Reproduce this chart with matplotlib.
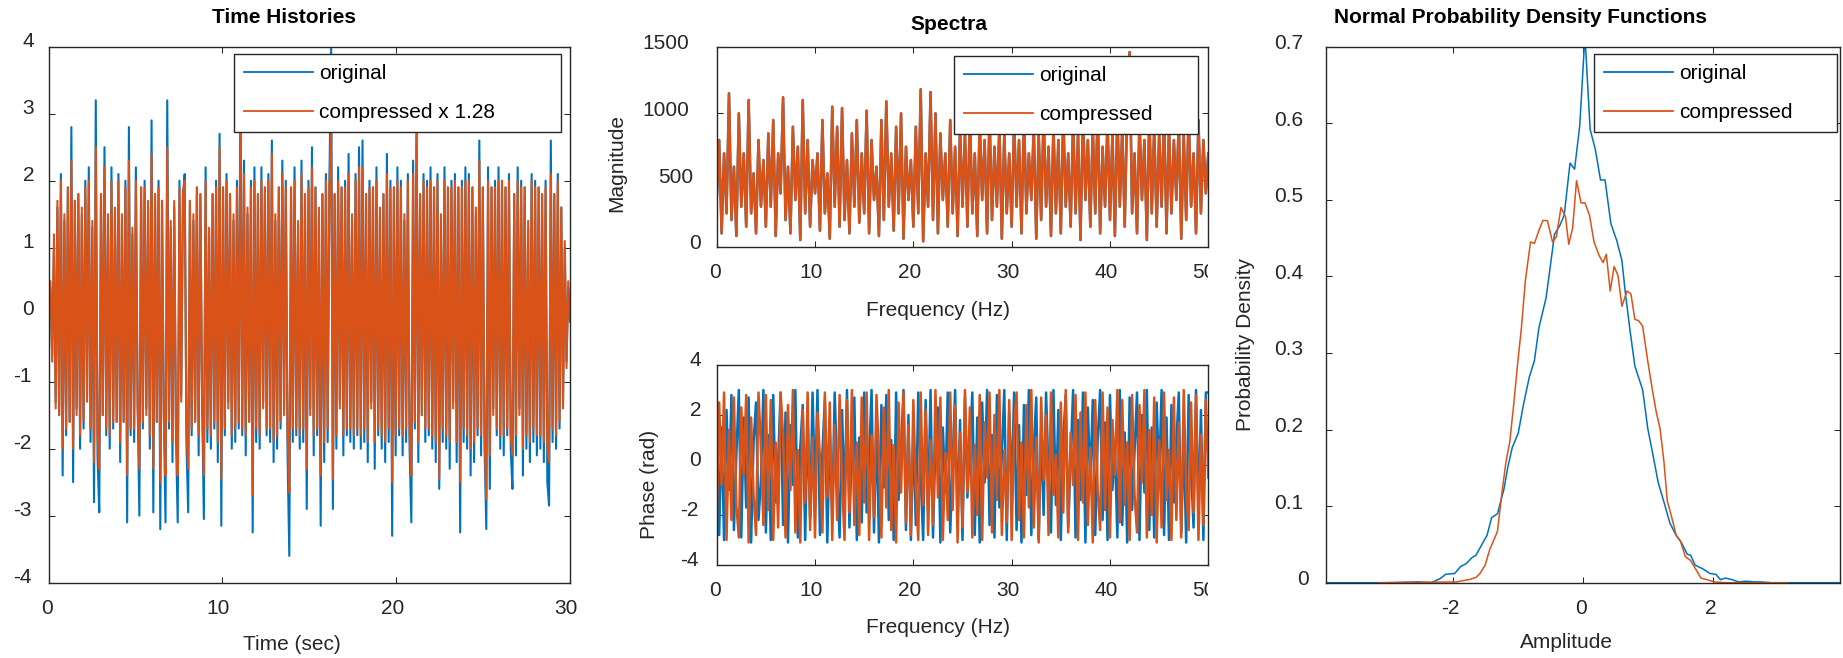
import numpy as np
import matplotlib
matplotlib.use('Agg')
import matplotlib.pyplot as plt
from matplotlib.transforms import ScaledTranslation, Bbox, TransformedBbox

plt.rcParams['font.family'] = ['Liberation Sans', 'DejaVu Sans']
plt.rcParams['axes.unicode_minus'] = False

# ---------------- data ----------------
time_span = [0, 30]
th_original = [
    0.0, 0.4, -0.6, 1.0, -1.3, 1.6, -1.5, 2.1, -2.4, 1.4, -1.8, 1.9, -1.6, 2.8, -2.5, 1.7, -1.4, 1.8, -2.0, 1.5,
    -1.7, 2.0, -1.2, 2.2, -1.9, 1.3, -2.8, 3.2, -2.1, -2.95, 1.8, -1.5, 2.5, -1.8, 1.4, -2.0, 2.2, -1.7, 1.5, -1.6,
    2.1, -2.2, 1.4, -1.6, 2.0, -3.1, 2.8, -1.8, 1.2, -1.9, 2.2, -1.3, -3.0, 1.9, -1.7, 2.0, -1.4, 1.6, -2.0, 2.9,
    -2.95, 1.8, -1.6, 2.0, -3.2, 1.7, -1.4, -3.1, 3.2, -1.7, 1.3, -2.2, 1.6, -1.8, -3.1, 2.0, -1.2, 1.8, 2.1, -1.9,
    -2.95, 1.7, -1.8, 1.4, -1.6, 1.9, -2.1, 1.8, -1.3, -3.05, 2.2, -1.9, 1.2, -2.0, 1.8, -1.7, 2.0, -2.2, 2.7, -3.15,
    1.9, -1.8, 2.1, -1.3, 1.8, -2.0, 1.4, -1.9, 2.0, -1.7, 3.6, -1.8, 2.3, -2.1, 1.5, -1.6, 2.0, -3.25, 2.2, -1.9,
    1.8, -2.0, 2.2, -1.3, 1.9, -1.8, 2.1, -1.9, 2.6, -2.2, 1.4, -2.0, 1.9, -1.7, 2.3, -1.4, 2.0, -2.1, -3.6, 1.9,
    -1.9, 2.2, -1.8, 1.3, -2.0, 2.3, -1.9, 1.8, -2.9, 2.0, -1.4, 2.5, -2.1, 1.9, -1.8, 1.5, -3.15, 1.8, -2.2, 2.1,
    -1.9, 2.0, 3.97, -2.9, 1.8, -2.0, 2.2, -1.3, 1.9, -2.1, 2.0, -1.8, 2.4, -1.9, 1.4, -2.0, 2.1, -1.8, 2.5, -2.0,
    2.6, -1.9, 1.8, -2.2, 2.0, -1.3, 1.9, -2.3, 2.2, -1.8, 1.5, -2.0, 1.8, -2.2, 2.4, -1.9, 2.0, -3.3, 1.9, -2.1,
    2.2, -1.8, 2.0, -2.1, 1.4, -1.9, 2.1, -2.0, -3.1, 2.3, -1.7, 2.9, -2.2, 1.8, -1.5, 2.1, -1.9, 2.0, -1.8, 2.2,
    -2.0, 1.9, -2.2, 2.1, -2.6, 1.4, -1.9, 2.2, -2.0, 1.9, -2.3, 2.0, -1.3, 2.1, -2.2, 1.9, -3.25, 2.0, -1.9, 2.2,
    -2.0, 2.1, -2.4, 1.9, -2.2, 1.5, -1.8, 2.6, -2.1, 1.9, -2.0, -3.2, 2.2, -2.6, 1.9, -1.4, 2.0, -1.8, 2.2, -2.0,
    2.0, -2.1, 1.9, -1.8, 2.1, -2.0, -2.6, 1.8, -2.1, 2.2, -1.4, 2.0, -2.4, 1.9, -2.0, 1.3, -2.2, 2.1, -1.9, 2.0,
    -2.1, 1.9, -2.0, 1.8, -2.2, 2.0, -2.5, -2.85, 2.6, -1.9, 1.8, -2.0, 2.1, -1.7, 1.6, -1.3, 1.0, -0.7, 0.4, -0.1,
]
th_compressed = [
    0.0, 0.5, -0.7, 1.2, -1.4, 1.7, -1.5, 2.0, -2.0, 1.5, -1.7, 1.9, -1.6, 2.3, -2.0, 1.7, -1.5, 1.8, -1.8, 1.6,
    -1.6, 1.9, -1.3, 2.0, -1.7, 1.4, -2.2, 2.5, -1.8, -2.3, 1.8, -1.5, 2.2, -1.7, 1.5, -1.8, 2.0, -1.6, 1.6, -1.6,
    2.0, -1.9, 1.5, -1.6, 1.9, -2.4, 2.3, -1.7, 1.3, -1.7, 2.0, -1.4, -2.3, 1.9, -1.6, 1.9, -1.5, 1.7, -1.8, 2.4,
    -2.3, 1.8, -1.6, 1.9, -2.5, 1.7, -1.5, -2.4, 2.5, -1.6, 1.4, -1.9, 1.7, -1.7, -2.4, 1.9, -1.3, 1.8, 2.0, -1.7,
    -2.3, 1.7, -1.7, 1.5, -1.6, 1.9, -1.8, 1.8, -1.4, -2.4, 2.0, -1.7, 1.3, -1.8, 1.8, -1.6, 1.9, -1.9, 2.5, -2.45,
    1.9, -1.7, 2.0, -1.4, 1.8, -1.8, 1.5, -1.7, 1.9, -1.6, 2.7, -1.7, 2.1, -1.8, 1.6, -1.6, 1.9, -2.7, 2.0, -1.7,
    1.8, -1.8, 2.0, -1.4, 1.9, -1.7, 2.0, -1.7, 2.4, -1.9, 1.5, -1.8, 1.9, -1.6, 2.1, -1.5, 1.9, -1.8, -2.65, 1.9,
    -1.7, 2.0, -1.7, 1.4, -1.8, 2.1, -1.7, 1.8, -2.3, 1.9, -1.5, 2.2, -1.8, 1.9, -1.7, 1.6, -2.4, 1.8, -1.9, 2.0,
    -1.7, 1.9, 2.75, -2.45, 1.8, -1.8, 2.0, -1.4, 1.9, -1.8, 1.9, -1.7, 2.1, -1.7, 1.5, -1.8, 2.0, -1.7, 2.2, -1.8,
    2.2, -1.7, 1.8, -1.9, 1.9, -1.4, 1.9, -1.9, 2.0, -1.7, 1.6, -1.8, 1.8, -1.9, 2.1, -1.7, 1.9, -2.5, 1.9, -1.8,
    2.0, -1.7, 1.9, -1.8, 1.5, -1.7, 2.0, -1.8, -2.4, 2.1, -1.6, 2.7, -1.9, 1.8, -1.5, 2.0, -1.7, 1.9, -1.7, 2.0,
    -1.8, 1.9, -1.9, 2.0, -2.45, 1.5, -1.7, 2.0, -1.8, 1.9, -1.9, 1.9, -1.4, 2.0, -1.9, 1.9, -2.5, 1.9, -1.7, 2.0,
    -1.8, 2.0, -2.0, 1.9, -1.9, 1.6, -1.7, 2.3, -1.8, 1.9, -1.8, -2.75, 2.0, -2.1, 1.9, -1.5, 1.9, -1.7, 2.0, -1.8,
    2.0, -1.8, 1.9, -1.7, 2.0, -1.8, -2.1, 1.8, -1.8, 2.0, -1.5, 1.9, -2.0, 1.9, -1.8, 1.4, -1.9, 2.0, -1.7, 1.9,
    -1.8, 1.9, -1.8, 1.8, -1.9, 1.9, -2.0, -2.2, 2.1, -1.7, 1.8, -1.8, 2.0, -1.6, 1.6, -1.4, 1.1, -0.8, 0.5, -0.1,
]

freq_span = [0, 50]
mag_original = [
    350, 800, 100, 700, 250, 1150, 200, 600, 80, 1000, 300, 700, 150, 1100, 250, 550, 100, 800, 300, 650,
    150, 850, 300, 950, 80, 700, 400, 1120, 200, 600, 100, 900, 350, 750, 50, 1100, 250, 800, 150, 650,
    400, 700, 120, 950, 250, 550, 60, 1050, 300, 900, 150, 1040, 200, 650, 100, 850, 300, 950, 180, 700,
    250, 1020, 100, 800, 350, 600, 80, 950, 200, 1090, 300, 700, 120, 900, 250, 1000, 60, 750, 350, 650,
    150, 900, 250, 1180, 40, 700, 300, 1160, 200, 1000, 100, 850, 350, 700, 150, 950, 250, 750, 80, 900,
    300, 850, 150, 1000, 250, 700, 80, 950, 350, 800, 100, 1000, 200, 750, 300, 900, 60, 850, 250, 700,
    150, 950, 300, 800, 100, 1000, 250, 700, 350, 900, 60, 850, 200, 1000, 300, 750, 80, 900, 250, 800,
    100, 1000, 300, 700, 150, 950, 250, 850, 50, 1000, 350, 800, 150, 900, 250, 1050, 100, 750, 300, 950,
    200, 850, 80, 1000, 300, 900, 150, 1050, 1460, 250, 700, 100, 950, 350, 800, 50, 1000, 250, 900, 150,
    850, 300, 1000, 100, 900, 250, 800, 350, 950, 60, 850, 200, 1000, 300, 700, 100, 950, 250, 800, 400,
    700,
]
# in the picture the compressed magnitude lies exactly over the original one
mag_compressed = mag_original

phase_original = [
    2.9, -2.8, 1.5, -3.0, 2.2, -1.0, 2.8, -2.6, 0.4, 3.0, -2.9, 1.9, -1.7, 2.7, -3.1, 0.9, 2.5, -2.2, -0.6, 3.0,
    -2.7, 1.2, -3.0, 2.8, -1.5, 0.2, 2.9, -2.4, 2.1, -3.1, 1.6, -0.8, 3.0, -2.9, 0.7, 2.4, -3.0, 1.8, -2.1, 2.9,
    -1.2, 3.0, -2.8, 0.5, 2.6, -3.1, 1.4, -2.0, 2.9, -0.3, -2.9, 2.2, -1.6, 3.0, -2.5, 0.8, 2.7, -3.0, 1.1, -2.3,
    2.9, -1.9, 0.3, 3.0, -2.7, 1.7, -3.1, 2.4, -0.9, 2.8, -2.2, 1.0, -3.0, 2.9, -1.4, 0.6, 3.0, -2.6, 2.0, -3.0,
    1.3, -2.4, 2.9, -0.5, -3.0, 2.6, -1.8, 3.0, -2.9, 0.9, 2.3, -3.1, 1.5, -1.1, 2.9, -2.7, 0.2, 3.0, -2.3, 1.8,
    -3.0, 2.7, -1.3, 0.7, 2.9, -2.8, 1.9, -3.1, 2.5, -0.7, 3.0, -2.4, 1.2, -2.9, 2.8, -1.7, 0.4, 3.0, -3.0, 2.1,
    -0.9, 2.9, -2.6, 1.6, -3.1, 2.4, -1.2, 3.0, -2.8, 0.6, 2.7, -3.0, 1.4, -2.0, 2.9, -0.4, -2.7, 3.0, -1.6, 2.2,
    -3.0, 1.1, 2.8, -2.5, 0.3, 3.0, -2.9, 1.8, -1.4, 2.9, -3.1, 2.3, -0.8, 2.6, -2.8, 1.0, 3.0, -2.2, 1.7, -3.0,
    2.8, -1.0, 0.8, -2.9, 3.0, -2.4, 1.3, -3.1, 2.7, -1.8, 0.5, 2.9, -3.0, 2.0, -1.1, 3.0, -2.6, 1.5, -2.9, 2.5,
    -0.6, 3.0, -2.8, 1.9, -3.0, 2.4, -1.5, 0.9, 2.9, -2.7, 1.2, -3.1, 2.8, -0.2, -2.5, 3.0, -1.9, 2.2, -3.0, 2.9,
    2.9,
]
phase_compressed = [
    -2.6, 2.5, -0.8, 2.9, -3.0, 1.4, -2.2, 2.7, -1.6, -2.9, 2.3, -0.4, 2.8, -3.1, 1.9, -1.2, -2.8, 2.9, 0.7, -2.4,
    2.8, -1.8, 2.6, -3.0, 0.9, -2.5, 2.9, 1.2, -2.9, 2.4, -1.0, 3.0, -2.7, 0.6, -3.1, 2.2, -1.5, 2.9, -2.6, 1.1,
    -2.9, 2.1, 0.3, -2.7, 2.9, -1.3, 2.5, -3.0, 1.6, -2.2, 2.8, -0.7, -3.0, 2.6, -1.9, 3.0, -2.4, 0.9, -2.8, 2.7,
    -1.5, 2.9, -3.0, 1.2, -2.1, 2.8, 0.4, -2.9, 2.3, -1.7, 3.0, -2.6, 0.8, -3.1, 2.5, -1.1, 2.9, -2.3, 1.6, -2.8,
    2.6, -0.9, -3.0, 2.9, -1.6, 2.2, -2.8, 1.0, -2.4, 3.0, -1.3, 2.7, -3.0, 0.5, -2.2, 2.9, -1.8, 2.4, -3.1, 1.3,
    -2.5, 3.0, -1.1, 2.3, -2.9, 0.8, -2.0, 2.8, -3.0, 1.7, -0.5, 2.9, -2.7, 2.0, -1.4, 3.0, -2.8, 0.6, -2.3, 2.6,
    -3.0, 1.5, 2.9, -2.2, 0.9, -2.9, 2.4, -1.7, 3.0, -2.5, 1.1, -3.1, 2.7, -0.6, 2.0, -2.8, 2.9, -1.2, 0.4, -2.9,
    2.5, -1.9, 3.0, -2.7, 1.3, -0.8, 2.8, -3.0, 2.1, -1.5, 2.9, -2.4, 0.7, -3.1, 2.6, -1.0, -2.6, 2.9, -1.8, 2.3,
    -2.9, 1.8, -0.4, 3.0, -2.3, 2.6, -1.6, 0.9, -3.0, 2.8, -1.2, -2.7, 2.4, -0.7, 3.0, -2.9, 1.4, -2.0, 2.7, -3.1,
    1.0, -2.5, 2.9, -1.4, 0.6, -3.0, 2.7, -2.2, 1.7, -2.9, 3.0, -0.9, -2.6, 2.5, -1.9, 2.8, -3.0, 1.2, -2.4, 2.6,
    -0.5,
]

pdf_x_original = [-3.97, -3.0, -2.55, -2.34, -2.19, -2.12, -1.98, -1.89, -1.80, -1.71, -1.65, -1.56, -1.48,
                  -1.41, -1.32, -1.22, -1.16, -1.09, -1.00, -0.92, -0.83, -0.75, -0.68, -0.57, -0.50, -0.44,
                  -0.36, -0.29, -0.20, -0.13, -0.05, 0.03, 0.11, 0.19, 0.27, 0.34, 0.43, 0.52, 0.60, 0.65,
                  0.72, 0.80, 0.92, 1.00, 1.07, 1.16, 1.25, 1.34, 1.43, 1.52, 1.61, 1.66, 1.73, 1.85, 1.96,
                  2.05, 2.12, 2.20, 2.30, 2.40, 2.52, 2.64, 2.76, 2.90, 3.97]
pdf_y_original = [0.0, 0.0, 0.001, 0.0, 0.006, 0.011, 0.012, 0.021, 0.025, 0.033, 0.036, 0.050, 0.062,
                  0.085, 0.090, 0.122, 0.151, 0.177, 0.195, 0.232, 0.268, 0.290, 0.333, 0.372, 0.416, 0.455,
                  0.466, 0.480, 0.548, 0.540, 0.597, 0.715, 0.592, 0.566, 0.526, 0.526, 0.469, 0.447, 0.421,
                  0.381, 0.333, 0.283, 0.252, 0.201, 0.171, 0.131, 0.105, 0.078, 0.063, 0.052, 0.037, 0.036,
                  0.023, 0.018, 0.012, 0.011, 0.004, 0.006, 0.004, 0.001, 0.002, 0.001, 0.001, 0.0, 0.0]
pdf_x_compressed = [-3.15, -1.95, -1.83, -1.76, -1.65, -1.59, -1.51, -1.44, -1.32, -1.25, -1.19, -1.13,
                    -1.07, -1.01, -0.95, -0.89, -0.81, -0.75, -0.68, -0.62, -0.55, -0.47, -0.41, -0.34,
                    -0.27, -0.22, -0.16, -0.10, -0.03, 0.03, 0.10, 0.17, 0.25, 0.31, 0.36, 0.42, 0.48, 0.54,
                    0.60, 0.68, 0.74, 0.80, 0.86, 0.92, 1.00, 1.07, 1.13, 1.19, 1.25, 1.30, 1.37, 1.44, 1.50,
                    1.58, 1.66, 1.73, 1.82, 1.91, 2.03, 2.20, 3.15]
pdf_y_compressed = [0.0, 0.001, 0.003, 0.004, 0.007, 0.012, 0.023, 0.043, 0.067, 0.118, 0.157, 0.184,
                    0.232, 0.285, 0.333, 0.394, 0.445, 0.443, 0.460, 0.473, 0.473, 0.445, 0.452, 0.490,
                    0.478, 0.442, 0.463, 0.525, 0.496, 0.496, 0.480, 0.445, 0.427, 0.418, 0.429, 0.381,
                    0.413, 0.401, 0.361, 0.381, 0.377, 0.344, 0.342, 0.335, 0.289, 0.252, 0.223, 0.201,
                    0.157, 0.107, 0.085, 0.061, 0.055, 0.034, 0.029, 0.019, 0.006, 0.004, 0.001, 0.0, 0.0]

time_ticks = [0, 10, 20, 30]
th_yticks = [-4, -3, -2, -1, 0, 1, 2, 3, 4]
freq_ticks = [0, 10, 20, 30, 40, 50]
mag_yticks = [0, 500, 1000, 1500]
phase_yticks = [-4, -2, 0, 2, 4]
pdf_xticks = [-2, 0, 2]
pdf_yticks = [0, 0.1, 0.2, 0.3, 0.4, 0.5, 0.6, 0.7]
pdf_yticklabels = ['0', '0.1', '0.2', '0.3', '0.4', '0.5', '0.6', '0.7']

# ---------------- style ----------------
BLUE = '#0072BD'
ORANGE = '#D95319'
AXC = '#262626'
FS = 15
W, H = 1843, 658

fig = plt.figure(figsize=(W / 100, H / 100), dpi=100)
fig.patch.set_facecolor('white')


def add_axes(x0, y0, x1, y1):
    return fig.add_axes([x0 / W, 1 - y1 / H, (x1 - x0) / W, (y1 - y0) / H])


ax1 = add_axes(48.7, 46.7, 570.0, 582.7)
ax2 = add_axes(716.7, 46.7, 1208.3, 246.7)
ax3 = add_axes(716.7, 365.0, 1208.3, 565.0)
ax4 = add_axes(1325.7, 46.7, 1840.3, 582.7)


def style(ax, ypad):
    for s in ax.spines.values():
        s.set_color(AXC)
        s.set_linewidth(1.0)
    ax.tick_params(direction='in', top=True, right=True, length=4.3, width=0.75,
                   color=AXC, labelcolor=AXC, labelsize=FS)
    ax.tick_params(axis='x', pad=11.5)
    ax.tick_params(axis='y', pad=ypad)


def legend(ax, labels, x0, top, w):
    leg = ax.legend(labels, loc='upper left', bbox_to_anchor=(x0, top, w, 0), mode='expand',
                    borderaxespad=0, fancybox=False, framealpha=1, edgecolor=AXC, fontsize=FS,
                    handlelength=3.3, handletextpad=0.3, borderpad=0.5, labelspacing=0.94)
    leg.get_frame().set_linewidth(1.0)
    for ln in leg.get_lines():
        ln.set_linewidth(1.3)
    for t in leg.get_texts():
        t.set_color('black')
    return leg


# --- Time histories
t = np.linspace(time_span[0], time_span[1], len(th_original))
ax1.plot(t, th_original, color=BLUE, lw=1.5)
ax1.plot(t, th_compressed, color=ORANGE, lw=1.5)
ax1.set_xlim(time_span)
ax1.set_ylim(-4, 4)
ax1.set_xticks(time_ticks)
ax1.set_yticks(th_yticks)
style(ax1, 7.6)
legend(ax1, ['original', 'compressed x 1.28'], 0.3555, 0.9864, 0.628)
ax1.set_title('Time Histories', x=0.451, y=1.0549, pad=0, va='center',
              fontsize=FS, fontweight='bold', color='black')
ax1.set_xlabel('Time (sec)', fontsize=FS, color=AXC, va='center')
ax1.xaxis.set_label_coords(0.4667, -0.1162)

# --- Spectra magnitude
f = np.linspace(freq_span[0], freq_span[1], len(mag_original))
ax2.plot(f, mag_original, color=BLUE, lw=1.8)
ax2.plot(f, mag_compressed, color=ORANGE, lw=1.8)
ax2.set_xlim(freq_span)
ax2.set_ylim(0, 1500)
ax2.set_xticks(freq_ticks)
ax2.set_yticks(mag_yticks)
style(ax2, 8.2)
legend(ax2, ['original', 'compressed'], 0.4827, 0.9535, 0.4963)
ax2.set_title('Spectra', x=0.4725, y=1.11, pad=0, va='center',
              fontsize=FS, fontweight='bold', color='black')
ax2.set_xlabel('Frequency (Hz)', fontsize=FS, color=AXC, va='center')
ax2.xaxis.set_label_coords(0.4498, -0.3165)
ax2.set_ylabel('Magnitude', fontsize=FS, color=AXC, va='center')
ax2.yaxis.set_label_coords(-0.2042, 0.4185)

# --- Spectra phase
fp = np.linspace(freq_span[0], freq_span[1], len(phase_original))
ax3.plot(fp, phase_original, color=BLUE, lw=1.8)
ax3.plot(fp, phase_compressed, color=ORANGE, lw=1.8)
ax3.set_xlim(freq_span)
ax3.set_ylim(-4, 4)
ax3.set_xticks(freq_ticks)
ax3.set_yticks(phase_yticks)
style(ax3, 8.2)
ax3.set_xlabel('Frequency (Hz)', fontsize=FS, color=AXC, va='center')
ax3.xaxis.set_label_coords(0.4498, -0.3135)
ax3.set_ylabel('Phase (rad)', fontsize=FS, color=AXC, va='center')
ax3.yaxis.set_label_coords(-0.1377, 0.405)

# --- PDFs
ax4.plot(pdf_x_original, pdf_y_original, color=BLUE, lw=1.1)
ax4.plot(pdf_x_compressed, pdf_y_compressed, color=ORANGE, lw=1.1)
ax4.set_xlim(-3.97, 3.97)
ax4.set_ylim(0, 0.7)
ax4.set_xticks(pdf_xticks)
ax4.set_yticks(pdf_yticks)
ax4.set_yticklabels(pdf_yticklabels)
style(ax4, 9.0)
legend(ax4, ['original', 'compressed'], 0.5206, 0.9864, 0.473)
ax4.set_title('Normal Probability Density Functions', x=0.3776, y=1.0549, pad=0, va='center',
              fontsize=FS, fontweight='bold', color='black')
ax4.set_xlabel('Amplitude', fontsize=FS, color=AXC, va='center')
ax4.xaxis.set_label_coords(0.468, -0.1125)
ax4.set_ylabel('Probability Density', fontsize=FS, color=AXC, va='center')
ax4.yaxis.set_label_coords(-0.1568, 0.4453)

# ---- mimic the reference's tick-label placement
fig.canvas.draw()
for ax, dy in [(ax1, 7), (ax2, 5), (ax3, 6), (ax4, 5)]:
    for lbl in ax.get_yticklabels():
        w = lbl.get_window_extent().width
        lbl.set_transform(lbl.get_transform() +
                          ScaledTranslation(-0.351 * w / 100, dy / 100, fig.dpi_scale_trans))
    for lbl in ax.get_xticklabels():
        w = lbl.get_window_extent().width
        lbl.set_transform(lbl.get_transform() +
                          ScaledTranslation(-0.176 * w / 100, 0, fig.dpi_scale_trans))

for ax in (ax2, ax3):
    clip = TransformedBbox(Bbox([[-1, -2], [1, 2]]), ax.transAxes)
    for lbl in ax.get_xticklabels():
        lbl.set_clip_box(clip)
        lbl.set_clip_on(True)

fig.savefig('out.png', dpi=100, facecolor='white')
